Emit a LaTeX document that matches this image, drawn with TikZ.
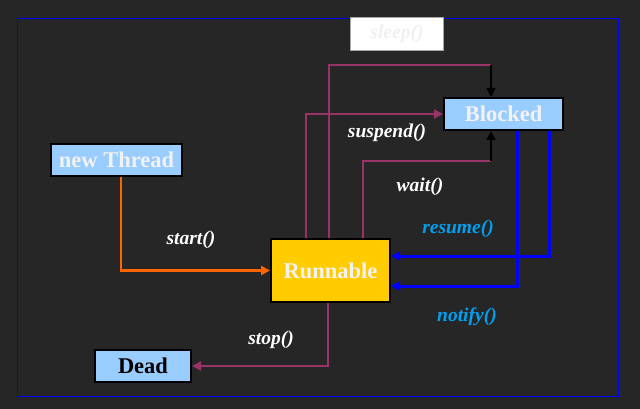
\documentclass[tikz,border=0pt]{standalone}
\usepackage{fontspec}
\setmainfont{Liberation Serif}
\usetikzlibrary{arrows.meta}

\definecolor{bgdark}{HTML}{262626}
\definecolor{boxblue}{HTML}{99CCFF}
\definecolor{runyellow}{HTML}{FFCC00}
\definecolor{linepurple}{HTML}{993366}
\definecolor{lineorange}{HTML}{FF6600}
\definecolor{lineblue}{HTML}{0000FF}
\definecolor{callcyan}{HTML}{00A0F0}

\begin{document}
\begin{tikzpicture}[
            x=1pt, y=-1pt,
            state/.style={draw=black, line width=2pt, fill=boxblue, inner sep=0pt,
                minimum height=32pt, text=white!95!black,
                font=\fontsize{22.5}{25}\selectfont\bfseries},
            call/.style={text=white, font=\fontsize{19.5}{22}\selectfont\bfseries\itshape},
            tip/.style={-{Triangle[length=9pt,width=9pt]}},
            purpline/.style={draw=linepurple, line width=2pt},
            bluearrow/.style={tip, draw=lineblue, line width=3pt},
            ]
            % background and frame
            \fill[bgdark] (0,0) rectangle (640,409);
            \draw[lineblue, line width=1pt] (17.5,18.5) rectangle (618.5,396.5);

            % states
            \node[state, minimum width=131pt] (thread) at (116.5,160) {new Thread};
            \node[state, minimum width=119pt] (blk) at (503.5,114) {Blocked};
            \node[state, minimum width=119pt, minimum height=63pt, fill=runyellow] (run) at (330.5,270.5) {Runnable};
            \node[state, minimum width=96pt, text=black] (dead) at (143,366) {Dead};
            \node[draw=gray!70, line width=0.8pt, fill=white, inner sep=0pt, minimum width=93pt,
                minimum height=33pt, text=gray!12, font=\fontsize{19.5}{22}\selectfont\bfseries\itshape]
                (sleep) at (397,33.5) {sleep()};

            \coordinate (sl) at (491,65);
            \coordinate (wt) at (491,161);

            % transitions
            \draw[tip, draw=lineorange, line width=2.2pt]
                ([xshift=4.5pt]thread.south) |- (run.west);
            \draw[purpline, tip] ([xshift=-24.5pt]run.north) |- (blk.west);
            \draw[purpline] ([xshift=-1.5pt]run.north) |- (sl);
            \draw[tip, line width=1.6pt] (sl) -- (sl |- blk.north);
            \draw[purpline] ([xshift=32.5pt]run.north) |- (wt);
            \draw[tip, line width=1.6pt] (wt) -- (wt |- blk.south);
            \draw[purpline, tip] ([xshift=-2.5pt]run.south) |- (dead.east);
            \draw[bluearrow] ([xshift=45.5pt]blk.south) |- ([yshift=14.5pt]run.east);
            \draw[bluearrow] ([xshift=13.5pt]blk.south) |- ([yshift=-15.5pt]run.east);

            % labels
            \node[call] (lstart) at (191,240) {start()};
            \node[call] (lsusp) at (387,133) {suspend()};
            \node[call] (lwait) at (420,187) {wait()};
            \node[call, text=callcyan] (lres) at (458,229) {resume()};
            \node[call, text=callcyan] (lnot) at (467,317) {notify()};
            \node[call] (lstop) at (271,340) {stop()};
        \end{tikzpicture}
\end{document}
